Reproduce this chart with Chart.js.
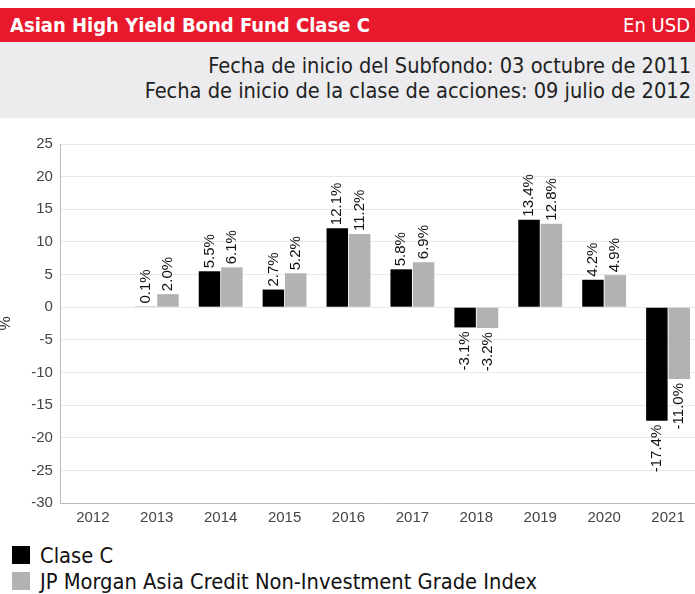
<!DOCTYPE html>
<html lang="es">
<head>
<meta charset="UTF-8">
<title>Asian High Yield Bond Fund Clase C</title>
<script src="https://cdn.jsdelivr.net/npm/chart.js"></script>
<style>
    body {
        margin: 0;
        width: 695px;
        height: 594px;
        overflow: hidden;
        position: relative;
        background: white;
        font-family: 'Liberation Sans Narrow', 'DejaVu Sans Condensed', 'Liberation Sans', sans-serif;
    }
    .header {
        position: absolute;
        top: 8px;
        left: 0;
        width: 695px;
        height: 34px;
        background: #e8192c;
        color: white;
    }
    .header .title {
        position: absolute;
        left: 10px;
        top: 5px;
        font-size: 20px;
        font-weight: bold;
    }
    .header .ccy {
        position: absolute;
        right: 5px;
        top: 5px;
        font-size: 20px;
    }
    .info {
        position: absolute;
        top: 42px;
        left: 0;
        width: 695px;
        height: 76px;
        background: #ececee;
        color: #222;
        text-align: right;
        font-size: 21.6px;
        line-height: 25px;
    }
    .info div { padding-right: 4px; }
    .info div:first-child { margin-top: 11px; }
    .chart-box {
        position: absolute;
        top: 120px;
        left: -4px;
        width: 706px;
        height: 413px;
    }
    .legend {
        position: absolute;
        left: 12px;
        top: 542px;
        font-size: 21.7px;
        color: #111;
    }
    .legend .item {
        display: flex;
        align-items: center;
        height: 26px;
    }
    .legend .sw {
        width: 18px;
        height: 18px;
        margin-right: 10px;
    }
</style>
</head>
<body>

<div class="header">
    <span class="title">Asian High Yield Bond Fund Clase C</span>
    <span class="ccy">En USD</span>
</div>
<div class="info">
    <div>Fecha de inicio del Subfondo: 03 octubre de 2011</div>
    <div>Fecha de inicio de la clase de acciones: 09 julio de 2012</div>
</div>

<div class="chart-box">
    <canvas id="perfChart"></canvas>
</div>

<div class="legend">
    <div class="item"><span class="sw" style="background:#000"></span>Clase C</div>
    <div class="item"><span class="sw" style="background:#b2b2b2"></span>JP Morgan Asia Credit Non-Investment Grade Index</div>
</div>

<script>
    // data
    const years = ['2012', '2013', '2014', '2015', '2016', '2017', '2018', '2019', '2020', '2021'];
    const claseC = [null, 0.1, 5.5, 2.7, 12.1, 5.8, -3.1, 13.4, 4.2, -17.4];
    const indexJPM = [null, 2.0, 6.1, 5.2, 11.2, 6.9, -3.2, 12.8, 4.9, -11.0];
    const yTicks = [25, 20, 15, 10, 5, 0, -5, -10, -15, -20, -25, -30];

    // rotated % labels on top / under every bar
    const barLabels = {
        id: 'barLabels',
        afterDatasetsDraw(chart) {
            const ctx = chart.ctx;
            ctx.save();
            ctx.font = '15px "Liberation Sans", Arial, sans-serif';
            ctx.fillStyle = '#111';
            ctx.textBaseline = 'middle';
            chart.data.datasets.forEach((ds, i) => {
                chart.getDatasetMeta(i).data.forEach((bar, j) => {
                    const v = ds.data[j];
                    if (v === null) return;
                    const txt = v.toFixed(1) + '%';
                    ctx.save();
                    if (v >= 0) {
                        ctx.translate(bar.x, bar.y - 3);
                        ctx.rotate(-Math.PI / 2);
                        ctx.textAlign = 'left';
                    } else {
                        ctx.translate(bar.x, bar.y + 4);
                        ctx.rotate(-Math.PI / 2);
                        ctx.textAlign = 'right';
                    }
                    ctx.fillText(txt, 0, 0);
                    ctx.restore();
                });
            });
            ctx.restore();
        }
    };

    const ctx1 = document.getElementById('perfChart').getContext('2d');
    new Chart(ctx1, {
        type: 'bar',
        data: {
            labels: years,
            datasets: [{
                label: 'Clase C',
                data: claseC,
                backgroundColor: '#000000',
                categoryPercentage: 0.7,
                barPercentage: 0.96
            }, {
                label: 'JP Morgan Asia Credit Non-Investment Grade Index',
                data: indexJPM,
                backgroundColor: '#b2b2b2',
                categoryPercentage: 0.7,
                barPercentage: 0.96
            }]
        },
        options: {
            responsive: true,
            maintainAspectRatio: false,
            animation: false,
            layout: { padding: { top: 24, right: 2, left: 0, bottom: 0 } },
            scales: {
                x: {
                    grid: { display: false, drawTicks: false },
                    border: { color: '#bbb' },
                    ticks: { color: '#444', padding: 6, font: { size: 15, family: '"Liberation Sans", Arial' } }
                },
                y: {
                    min: -30,
                    max: 25,
                    afterBuildTicks(axis) {
                        axis.ticks = yTicks.map(v => ({ value: v }));
                    },
                    grid: { color: '#e8e8e8', drawTicks: false },
                    border: { color: '#bbb' },
                    ticks: { color: '#444', padding: 8, font: { size: 15, family: '"Liberation Sans", Arial' } },
                    title: {
                        display: true,
                        text: '%',
                        color: '#333',
                        font: { size: 16, family: '"Liberation Sans", Arial' },
                        padding: { top: 0, bottom: 8 }
                    }
                }
            },
            plugins: {
                legend: { display: false },
                tooltip: { enabled: false }
            }
        },
        plugins: [barLabels]
    });
</script>

</body>
</html>
